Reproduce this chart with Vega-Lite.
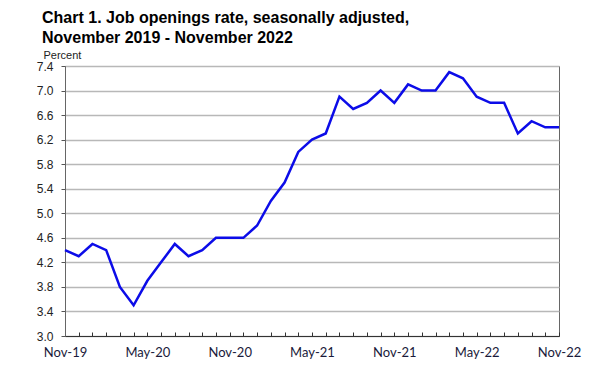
{
  "$schema": "https://vega.github.io/schema/vega-lite/v6.json",
  "width": 494,
  "height": 270,
  "autosize": "none",
  "padding": {"left": 65, "top": 66, "right": 38, "bottom": 42},
  "background": "white",
  "title": {
    "text": ["Chart 1. Job openings rate, seasonally adjusted,", "November 2019 - November 2022"],
    "anchor": "start",
    "frame": "group",
    "dx": -23,
    "font": "Liberation Sans",
    "fontSize": 16,
    "fontWeight": "bold",
    "lineHeight": 20,
    "color": "#000000",
    "baseline": "top",
    "offset": 3
  },
  "config": {
    "view": {"stroke": "#666666", "strokeWidth": 1},
    "axis": {"labelFont": "Liberation Sans", "titleFont": "Liberation Sans"}
  },
  "data": {
    "values": [
      {"month": "Nov-19", "rate": 4.4},
      {"month": "Dec-19", "rate": 4.3},
      {"month": "Jan-20", "rate": 4.5},
      {"month": "Feb-20", "rate": 4.4},
      {"month": "Mar-20", "rate": 3.8},
      {"month": "Apr-20", "rate": 3.5},
      {"month": "May-20", "rate": 3.9},
      {"month": "Jun-20", "rate": 4.2},
      {"month": "Jul-20", "rate": 4.5},
      {"month": "Aug-20", "rate": 4.3},
      {"month": "Sep-20", "rate": 4.4},
      {"month": "Oct-20", "rate": 4.6},
      {"month": "Nov-20", "rate": 4.6},
      {"month": "Dec-20", "rate": 4.6},
      {"month": "Jan-21", "rate": 4.8},
      {"month": "Feb-21", "rate": 5.2},
      {"month": "Mar-21", "rate": 5.5},
      {"month": "Apr-21", "rate": 6.0},
      {"month": "May-21", "rate": 6.2},
      {"month": "Jun-21", "rate": 6.3},
      {"month": "Jul-21", "rate": 6.9},
      {"month": "Aug-21", "rate": 6.7},
      {"month": "Sep-21", "rate": 6.8},
      {"month": "Oct-21", "rate": 7.0},
      {"month": "Nov-21", "rate": 6.8},
      {"month": "Dec-21", "rate": 7.1},
      {"month": "Jan-22", "rate": 7.0},
      {"month": "Feb-22", "rate": 7.0},
      {"month": "Mar-22", "rate": 7.3},
      {"month": "Apr-22", "rate": 7.2},
      {"month": "May-22", "rate": 6.9},
      {"month": "Jun-22", "rate": 6.8},
      {"month": "Jul-22", "rate": 6.8},
      {"month": "Aug-22", "rate": 6.3},
      {"month": "Sep-22", "rate": 6.5},
      {"month": "Oct-22", "rate": 6.4},
      {"month": "Nov-22", "rate": 6.4}
    ]
  },
  "mark": {"type": "line", "color": "#0c0ce8", "strokeWidth": 2.5},
  "encoding": {
    "x": {
      "field": "month",
      "type": "ordinal",
      "sort": null,
      "scale": {"type": "point", "padding": 0},
      "axis": {
        "title": null,
        "labelAngle": 0,
        "labelOverlap": false,
        "labelExpr": "indexof(['Nov','May'], substring(datum.label,0,3)) >= 0 ? datum.label : ''",
        "labelFont": "Lato",
        "labelFontSize": 13,
        "labelColor": "#1a1a3a",
        "labelPadding": 14,
        "tickSize": -4,
        "tickColor": "#333333",
        "domainColor": "#333333",
        "grid": false
      }
    },
    "y": {
      "field": "rate",
      "type": "quantitative",
      "scale": {"domain": [3.0, 7.4], "nice": false, "zero": false},
      "axis": {
        "title": "Percent",
        "titleAngle": 0,
        "titleAlign": "left",
        "titleBaseline": "alphabetic",
        "titleX": -22,
        "titleY": -8,
        "titleFontSize": 11,
        "titleFontWeight": "normal",
        "titleColor": "#222222",
        "values": [3.0, 3.4, 3.8, 4.2, 4.6, 5.0, 5.4, 5.8, 6.2, 6.6, 7.0, 7.4],
        "format": ".1f",
        "labelFontSize": 12,
        "labelColor": "#222222",
        "labelPadding": 8,
        "tickSize": 4,
        "tickColor": "#555555",
        "domainColor": "#666666",
        "grid": true,
        "gridColor": "#b8b8b8",
        "gridWidth": 1.5
      }
    }
  }
}
